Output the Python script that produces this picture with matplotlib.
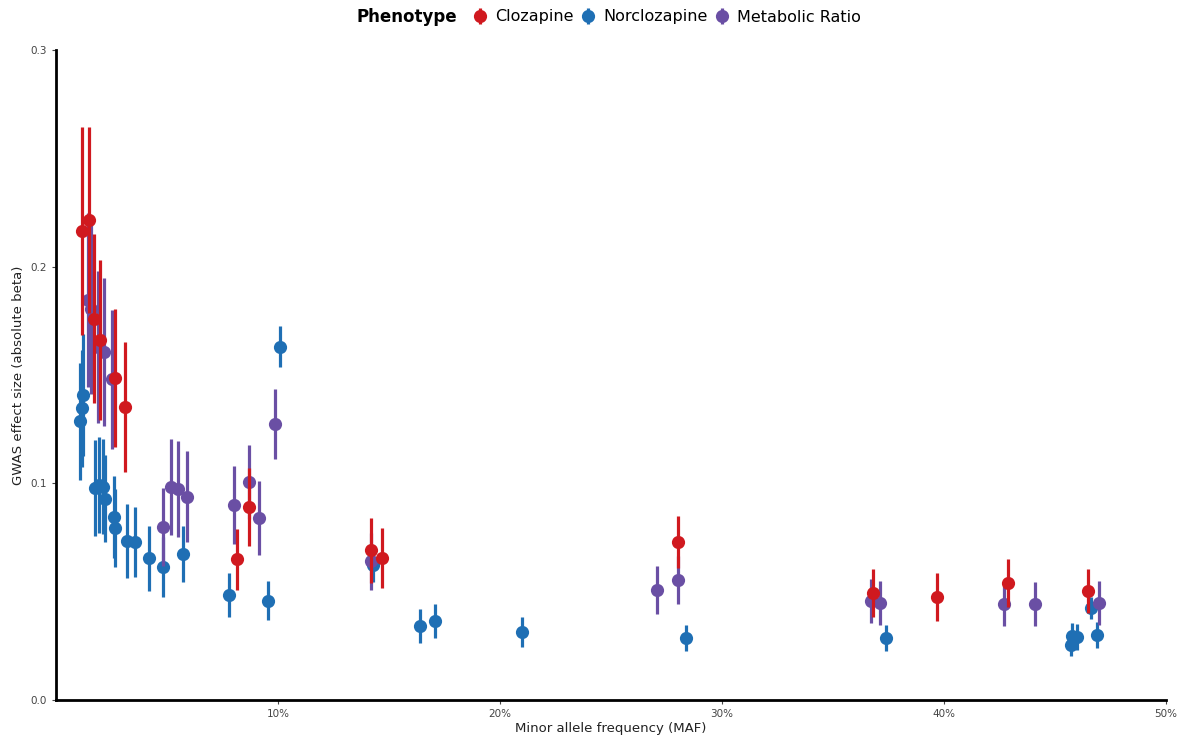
import numpy as np
import matplotlib
matplotlib.use("Agg")
import matplotlib.pyplot as plt

# Clozapine
clz_maf = [1.17, 1.49, 1.71, 1.98, 2.65, 3.1, 8.15, 8.7, 14.2, 14.7, 28.0, 36.8, 39.7, 42.9, 46.5]
clz_beta = [0.2164, 0.2215, 0.176, 0.166, 0.1486, 0.135, 0.065, 0.089, 0.0692, 0.0655, 0.0729, 0.0494, 0.0475, 0.054, 0.0503]
clz_err = [0.048, 0.043, 0.039, 0.037, 0.032, 0.030, 0.014, 0.018, 0.015, 0.014, 0.012, 0.011, 0.011, 0.011, 0.010]

# Norclozapine
ncl_maf = [1.1, 1.15, 1.2, 1.75, 1.95, 2.1, 2.2, 2.6, 2.65, 3.2, 3.55, 4.2, 4.8, 5.7,
           7.8, 9.55, 10.1, 14.3, 16.4, 17.05, 21.0, 28.4, 37.4, 45.7, 45.75, 46.0, 46.6, 46.9]
ncl_beta = [0.1287, 0.1347, 0.1407, 0.0978, 0.0992, 0.0985, 0.093, 0.0845, 0.0794, 0.0734, 0.0729,
            0.0655, 0.0614, 0.0674, 0.0485, 0.0457, 0.163, 0.0625, 0.0342, 0.0365, 0.0314, 0.0286,
            0.0286, 0.0254, 0.0295, 0.029, 0.0425, 0.030]
ncl_err = [0.027, 0.027, 0.028, 0.022, 0.022, 0.022, 0.020, 0.019, 0.018, 0.017, 0.016,
           0.015, 0.014, 0.013, 0.010, 0.009, 0.0095, 0.008, 0.008, 0.008, 0.007, 0.006,
           0.006, 0.005, 0.006, 0.006, 0.005, 0.006]

# Metabolic ratio
mr_maf = [1.44, 1.58, 1.9, 2.15, 2.5, 4.8, 5.2, 5.5, 5.9, 8.0, 8.7, 9.15, 9.85,
          14.2, 27.05, 28.0, 36.7, 37.1, 42.7, 44.1, 47.0]
mr_beta = [0.1846, 0.1804, 0.163, 0.1606, 0.148, 0.080, 0.0983, 0.0974, 0.0937, 0.090, 0.1006,
           0.084, 0.1274, 0.064, 0.0508, 0.0554, 0.0457, 0.0448, 0.0443, 0.0443, 0.0447]
mr_err = [0.040, 0.039, 0.035, 0.034, 0.032, 0.018, 0.022, 0.022, 0.021, 0.018, 0.017,
          0.017, 0.016, 0.013, 0.011, 0.011, 0.010, 0.010, 0.010, 0.010, 0.010]

colors = {"Clozapine": "#D0191F", "Norclozapine": "#1F6FB4", "Metabolic Ratio": "#6A4FA4"}

fig = plt.figure(figsize=(11.87, 7.42), dpi=100)
ax = fig.add_axes([56 / 1187, 42 / 742, 1110 / 1187, 650 / 742])

series = [("Norclozapine", ncl_maf, ncl_beta, ncl_err, 2),
          ("Metabolic Ratio", mr_maf, mr_beta, mr_err, 3),
          ("Clozapine", clz_maf, clz_beta, clz_err, 4)]
handles = {}
for name, maf, beta, err, z in series:
    h = ax.errorbar(np.array(maf) / 100, beta, yerr=err, fmt="o", color=colors[name],
                    markersize=9.5, elinewidth=2.3, capsize=0, markeredgewidth=0,
                    zorder=z, label=name)
    handles[name] = h

ax.set_xlim(0, 0.5)
ax.set_ylim(0, 0.3)
ax.set_xticks([0.1, 0.2, 0.3, 0.4, 0.5])
ax.set_xticklabels(["10%", "20%", "30%", "40%", "50%"])
ax.set_yticks([0.0, 0.1, 0.2, 0.3])
ax.set_yticklabels(["0.0", "0.1", "0.2", "0.3"])
ax.tick_params(labelsize=7.5, colors="#444444", length=3, width=0.8)
for s in ["top", "right"]:
    ax.spines[s].set_visible(False)
for s in ["left", "bottom"]:
    ax.spines[s].set_linewidth(2)
    ax.spines[s].set_color("black")
ax.set_xlabel("Minor allele frequency (MAF)", fontsize=9.5, color="#222222", labelpad=2)
ax.set_ylabel("GWAS effect size (absolute beta)", fontsize=9.5, color="#222222", labelpad=4)

fig.text(357 / 1187, 1 - 17 / 742, "Phenotype", fontsize=12, fontweight="bold", va="center")
names = ["Clozapine", "Norclozapine", "Metabolic Ratio"]
fig.legend([handles[n] for n in names], names, loc="center left",
           bbox_to_anchor=(472 / 1187, 1 - 17 / 742), ncol=3, frameon=False,
           fontsize=11.5, handlelength=1.0, handletextpad=0.45, columnspacing=0.4,
           borderpad=0, borderaxespad=0)

fig.savefig("out.png", dpi=100)
